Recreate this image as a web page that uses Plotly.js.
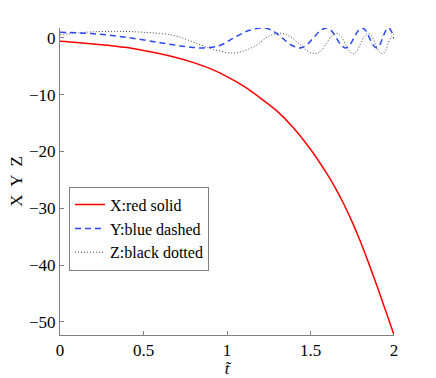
<!DOCTYPE html>
<html>
<head>
<meta charset="utf-8">
<script src="https://cdn.plot.ly/plotly-3.0.1.min.js"></script>
<style>
  html, body { margin: 0; padding: 0; background: #fff; }
  #chart { width: 436px; height: 378px; }
</style>
</head>
<body>
<div id="chart"></div>
<script>
// values
const tX = [0, 0.1, 0.2, 0.3, 0.4, 0.5, 0.6, 0.7, 0.8, 0.9, 1.0, 1.1, 1.2, 1.3, 1.4, 1.5, 1.6, 1.65, 1.7, 1.75, 1.8, 1.85, 1.9, 1.95, 2.0];
const xVals = [-0.6, -0.8, -1.05, -1.35, -1.7, -2.2, -2.8, -3.5, -4.35, -5.4, -6.8, -8.5, -10.6, -12.9, -15.9, -19.6, -24.0, -26.5, -29.3, -32.45, -35.95, -39.8, -43.85, -48.05, -52.3];

const tY = [0, 0.2, 0.4, 0.6, 0.75, 0.86, 0.96, 1.04, 1.13, 1.22, 1.275, 1.33, 1.384, 1.437, 1.477, 1.517, 1.557, 1.597, 1.626, 1.655, 1.683, 1.71, 1.735, 1.76, 1.785, 1.81, 1.832, 1.853, 1.875, 1.896, 1.914, 1.932, 1.95, 1.968, 1.984, 2.0];
const yVals = [1.0, 0.75, 0.1, -0.85, -1.5, -1.76, -1.3, 0, 1.3, 1.76, 1.24, 0, -1.24, -1.76, -1.24, 0, 1.24, 1.76, 1.24, 0, -1.24, -1.76, -1.24, 0, 1.24, 1.76, 1.24, 0, -1.24, -1.76, -1.24, 0, 1.24, 1.76, 1.2, -0.1];

const tZ = [0, 0.15, 0.34, 0.5, 0.68, 0.84, 0.92, 1.04, 1.11, 1.18, 1.25, 1.32, 1.375, 1.43, 1.48, 1.527, 1.561, 1.595, 1.626, 1.657, 1.682, 1.707, 1.732, 1.756, 1.778, 1.80, 1.823, 1.846, 1.867, 1.888, 1.909, 1.93, 1.948, 1.965, 1.983, 2.0];
const zVals = [0.6, 1.0, 1.16, 1.0, 0.45, -1.2, -2.05, -2.65, -2.2, -1.2, 0.3, 0.85, 0.3, -1.0, -2.25, -2.8, -2.3, -1.0, 0.3, 0.8, 0.3, -1.0, -2.3, -2.8, -2.3, -1.0, 0.3, 0.8, 0.3, -1.0, -2.3, -2.8, -2.3, -1.0, 0.2, 0.7];

const xTicks = [0, 0.5, 1, 1.5, 2];
const xTickText = ['0', '0.5', '1', '1.5', '2'];
const yTicks = [0, -10, -20, -30, -40, -50];
const yTickText = ['0', '\u221210', '\u221220', '\u221230', '\u221240', '\u221250'];

const serif = 'Liberation Serif';

const traces = [
  {
    x: tX, y: xVals, name: 'X:red solid', type: 'scatter', mode: 'lines',
    line: { color: '#ff0000', width: 1.5, shape: 'spline' }
  },
  {
    x: tY, y: yVals, name: 'Y:blue dashed', type: 'scatter', mode: 'lines',
    line: { color: '#2a48ff', width: 1.5, dash: '6px,4px', shape: 'spline' }
  },
  {
    x: tZ, y: zVals, name: 'Z:black dotted', type: 'scatter', mode: 'lines',
    line: { color: '#444444', width: 1, dash: '1px,2px', shape: 'spline' }
  }
];

const layout = {
  width: 436,
  height: 378,
  margin: { l: 60, r: 42, t: 28, b: 43 },
  paper_bgcolor: '#fff',
  plot_bgcolor: '#fff',
  font: { family: serif, size: 17, color: '#000' },
  showlegend: true,
  legend: {
    x: 0.027, y: 0.483, xanchor: 'left', yanchor: 'top',
    bgcolor: '#fff', bordercolor: '#808080', borderwidth: 1,
    font: { family: serif, size: 16 },
    itemwidth: 30, tracegroupgap: 0
  },
  xaxis: {
    range: [0, 2],
    tickvals: xTicks, ticktext: xTickText,
    ticks: 'inside', ticklen: 4, tickcolor: '#808080',
    showline: true, linecolor: '#808080', linewidth: 1,
    showgrid: false, zeroline: false,
    tickfont: { family: serif, size: 17 },
    title: { text: '<i>t\u0303</i>', font: { family: serif, size: 17 }, standoff: 0 }
  },
  yaxis: {
    range: [-52.33, 1.75],
    tickvals: yTicks, ticktext: yTickText,
    ticks: 'inside', ticklen: 4, tickcolor: '#808080',
    showline: true, linecolor: '#808080', linewidth: 1,
    showgrid: false, zeroline: false,
    tickfont: { family: serif, size: 17 },
    title: { text: 'X  Y  Z', font: { family: serif, size: 17 }, standoff: 2 }
  }
};

Plotly.newPlot('chart', traces, layout, { displayModeBar: false, staticPlot: true });
</script>
</body>
</html>
